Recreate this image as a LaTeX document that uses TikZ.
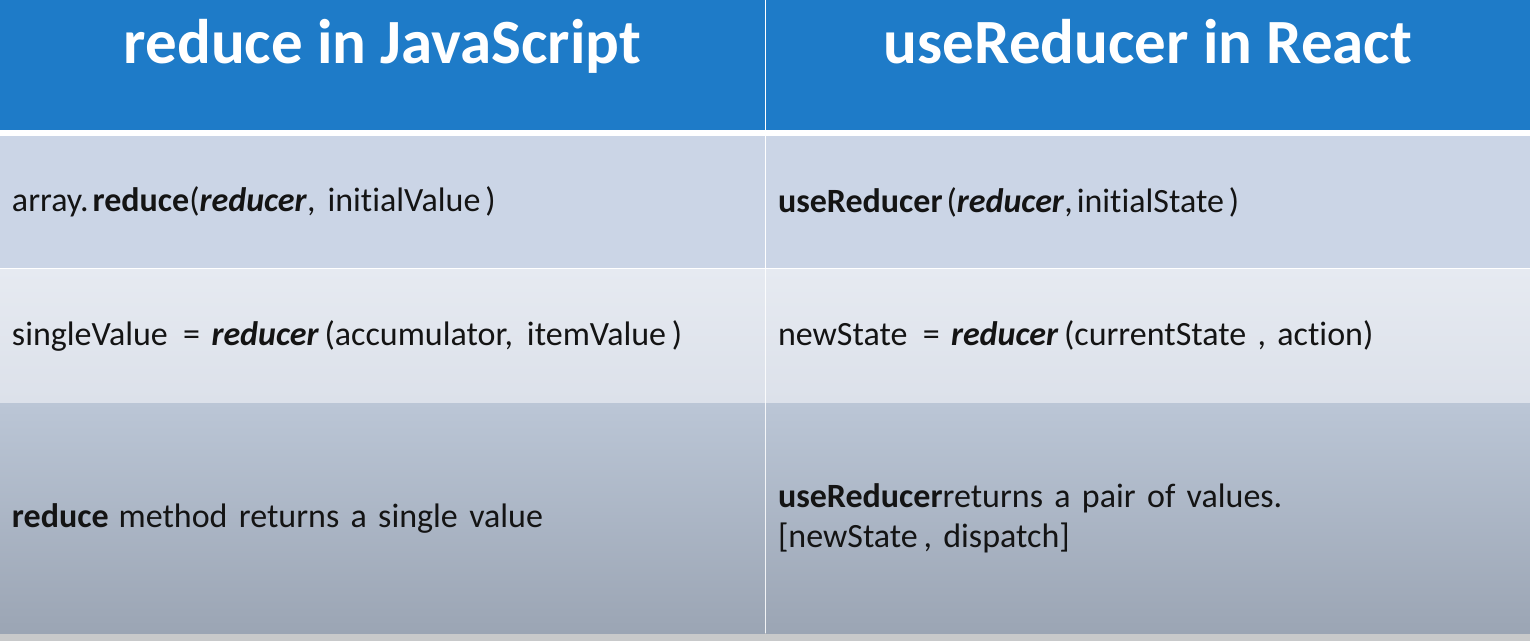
\documentclass[tikz,border=0pt]{standalone}
\usepackage{fontspec}
\setmainfont{Carlito}[Ligatures=NoCommon]
\usepackage{tikz}
\usetikzlibrary{positioning}

\definecolor{headblue}{HTML}{1E7BC8}
\definecolor{rowone}{HTML}{CBD5E6}
\definecolor{rowtwotop}{HTML}{E6EAF1}
\definecolor{rowtwobot}{HTML}{DCE1EA}
\definecolor{rowthreetop}{HTML}{BBC6D6}
\definecolor{rowthreebot}{HTML}{9BA5B4}
\definecolor{stripgrey}{HTML}{C8C9CA}
\definecolor{ink}{HTML}{141414}

\begin{document}
\frenchspacing
\begin{tikzpicture}[x=1pt, y=-1pt, node distance=1pt and 1pt,
    head/.style={fill=headblue, text=white, minimum width=765pt, minimum height=130pt, inner sep=0pt, outer sep=0pt, font=\fontsize{63}{68}\selectfont\bfseries, text height=47pt, text depth=51pt},
    cell/.style={text width=741pt, inner xsep=12pt, inner ysep=0pt, outer sep=0pt, align=left, text=ink, font=\fontsize{34}{40}\selectfont}]
    \fill[white] (0,0) rectangle (1530,641);
    \fill[stripgrey] (0,633) rectangle (1530,641);

    \node[head, anchor=north west] (JS) at (0,0) {reduce in JavaScript\hspace{26pt}};
    \node[head, right=1pt of JS, minimum width=764pt] (React) {useReducer in React};

    \node[cell, fill=rowone, minimum height=132pt, below=6pt of JS] (JSa) {array.\hspace{4pt}\textbf{reduce}(\textbf{\textit{reducer}},\hspace{12pt}initialValue\hspace{5pt})};
    \node[cell, fill=rowone, minimum height=132pt, text width=740pt, below=6pt of React] (Ra) {\textbf{useReducer}\hspace{4pt}(\textbf{\textit{reducer}},\hspace{4pt}initialState\hspace{5pt})};

    \node[cell, top color=rowtwotop, bottom color=rowtwobot, minimum height=133pt, below=of JSa] (JSb) {singleValue\hspace{4pt} = \textbf{\textit{reducer}}\,(accumulator,\hspace{14pt}itemValue\,)};
    \node[cell, top color=rowtwotop, bottom color=rowtwobot, minimum height=133pt, text width=740pt, below=of Ra] (Rb) {newState\hspace{4pt} = \textbf{\textit{reducer}}\,(currentState , action)};

    \node[cell, top color=rowthreetop, bottom color=rowthreebot, minimum height=230pt, below=of JSb] (JSc) {\textbf{reduce}\hspace{10pt}method returns a single value};
    \node[cell, top color=rowthreetop, bottom color=rowthreebot, minimum height=230pt, text width=740pt, below=of Rb] (Rc) {\textbf{useReducer}returns a pair of values.\\ {[}newState\,, dispatch{]}};
\end{tikzpicture}
\end{document}
